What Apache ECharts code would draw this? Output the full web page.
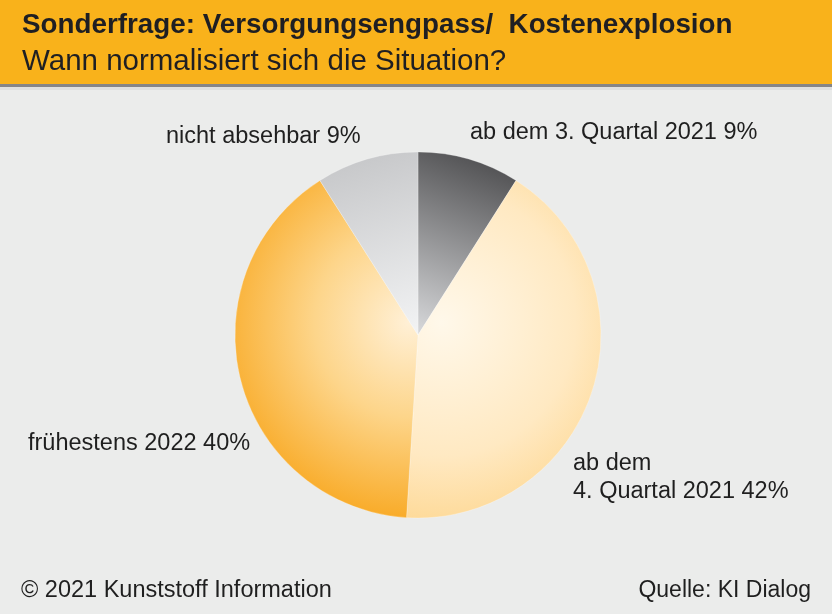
<!DOCTYPE html>
<html>
<head>
<meta charset="utf-8">
<script src="https://cdn.jsdelivr.net/npm/echarts@6/dist/echarts.min.js"></script>
<style>
html,body{margin:0;padding:0;background:#ebeceb;}
#chart{width:832px;height:614px;}
</style>
</head>
<body>
<div id="chart"></div>
<script>
var titleText = 'Sonderfrage: Versorgungsengpass/  Kostenexplosion';
var subtitleText = 'Wann normalisiert sich die Situation?';
var footerLeft = '\u00A9 2021 Kunststoff Information';
var footerRight = 'Quelle: KI Dialog';
var categories = ['ab dem 3. Quartal 2021', 'ab dem\n4. Quartal 2021', 'fr\u00FChestens 2022', 'nicht absehbar'];
var values = [9, 42, 40, 9];

var fills = [
  {type:'linear', x:0.85, y:0, x2:0.1, y2:1, colorStops:[{offset:0,color:'#48484a'},{offset:1,color:'#d6d7d9'}]},
  {type:'radial', x:0.18, y:0.42, r:1.25, colorStops:[{offset:0,color:'#fff8ea'},{offset:0.55,color:'#ffe9c2'},{offset:1,color:'#fdd07e'}]},
  {type:'radial', x:0.95, y:0.42, r:1.15, colorStops:[{offset:0,color:'#fff0d6'},{offset:0.45,color:'#fdd58a'},{offset:1,color:'#f8a51a'}]},
  {type:'linear', x:0.3, y:0, x2:0.9, y2:1, colorStops:[{offset:0,color:'#c5c6c8'},{offset:1,color:'#f2f3f4'}]}
];
var labelPos = [
  {x:470, y:133},
  {x:573, y:478},
  {x:28, y:444},
  {x:166, y:137}
];

var fontStack = '"Liberation Sans", Arial, Helvetica, sans-serif';
var chart = echarts.init(document.getElementById('chart'), null, {renderer:'canvas'});
var option = {
  backgroundColor: '#ebeceb',
  animation: false,
  graphic: [
    {type:'rect', shape:{x:0,y:0,width:832,height:84}, style:{fill:'#f9b21b'}, z:-10},
    {type:'rect', shape:{x:0,y:84,width:832,height:3}, style:{fill:'#858587'}, z:-10},
    {type:'rect', shape:{x:0,y:87,width:832,height:3}, style:{fill:'#dfe0df'}, z:-10},
    {type:'text', left:21, top:579, style:{text:footerLeft, font:'23.5px ' + fontStack, fill:'#1f1f1f'}},
    {type:'text', right:21, top:579, style:{text:footerRight, font:'23px ' + fontStack, fill:'#1f1f1f'}}
  ],
  title: [
    {text:titleText, left:17, top:6, textStyle:{fontFamily:fontStack, fontWeight:'bold', fontSize:27.8, color:'#1f1f23'}},
    {text:subtitleText, left:17, top:42, textStyle:{fontFamily:fontStack, fontWeight:'normal', fontSize:29.5, color:'#1f1f23'}}
  ],
  series: [{
    type:'pie',
    center:[418, 335],
    radius:[0, 183],
    startAngle:90,
    clockwise:true,
    silent:true,
    data: categories.map(function(c,i){return {name:c, value:values[i], itemStyle:{color:fills[i]}};}),
    itemStyle:{borderColor:'rgba(255,255,255,0.5)', borderWidth:0.5},
    label:{
      show:true,
      position:'outside',
      overflow:'none',
      formatter:function(p){return p.name + ' ' + p.value + '%';},
      fontFamily:fontStack,
      fontSize:23.5,
      lineHeight:28,
      color:'#1f1f1f'
    },
    labelLine:{show:false},
    labelLayout:function(p){
      var lp = labelPos[p.dataIndex];
      return {x:lp.x, y:lp.y, align:'left', verticalAlign:'middle'};
    }
  }]
};
chart.setOption(option);
</script>
</body>
</html>
